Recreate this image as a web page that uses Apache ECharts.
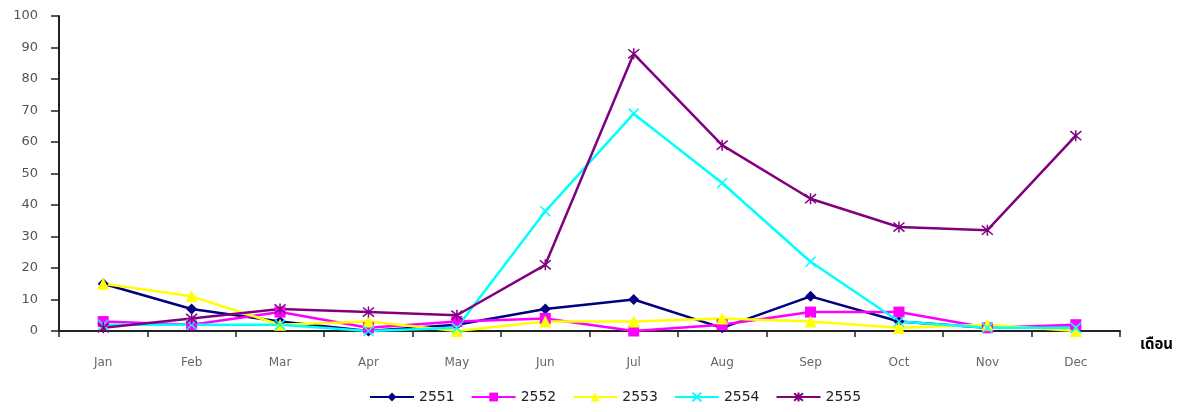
<!DOCTYPE html>
<html>
<head>
<meta charset="utf-8">
<script src="https://cdn.jsdelivr.net/npm/echarts@6/dist/echarts.min.js"></script>
<style>
  html, body { margin: 0; padding: 0; background: #fff; }
  #chart { width: 1188px; height: 412px; }
</style>
</head>
<body>
<div id="chart"></div>
<script>
const months = ['Jan', 'Feb', 'Mar', 'Apr', 'May', 'Jun', 'Jul', 'Aug', 'Sep', 'Oct', 'Nov', 'Dec'];
const yearNames = ['2551', '2552', '2553', '2554', '2555'];
const v2551 = [15, 7, 3, 0, 2, 7, 10, 1, 11, 3, 1, 1];
const v2552 = [3, 2, 6, 1, 3, 4, 0, 2, 6, 6, 1, 2];
const v2553 = [15, 11, 2, 3, 0, 3, 3, 4, 3, 1, 2, 0];
const v2554 = [2, 2, 2, 0, 1, 38, 69, 47, 22, 3, 1, 1];
const v2555 = [1, 4, 7, 6, 5, 21, 88, 59, 42, 33, 32, 62];
const yTicks = [0, 10, 20, 30, 40, 50, 60, 70, 80, 90, 100];
const axisTitle = 'เดือน';

const values = [v2551, v2552, v2553, v2554, v2555];
const colors = ['#000080', '#ff00ff', '#ffff00', '#00ffff', '#800080'];
const crossPath = 'path://M0,0L10,10M10,0L0,10';
const starPath = 'path://M0,0L10,10M10,0L0,10M5,-1L5,11';
const markers = [
  { symbol: 'diamond', size: 11, stroke: 0 },
  { symbol: 'rect', size: 11, stroke: 0 },
  { symbol: 'triangle', size: 12, stroke: 0 },
  { symbol: crossPath, size: 10, stroke: 1.5 },
  { symbol: starPath, size: 11, stroke: 1.5 }
];

const chart = echarts.init(document.getElementById('chart'), null, { renderer: 'canvas' });

const series = yearNames.map((name, i) => ({
  name: name,
  type: 'line',
  data: values[i],
  symbol: markers[i].symbol,
  symbolSize: markers[i].size,
  showAllSymbol: true,
  lineStyle: { color: colors[i], width: 2.5 },
  itemStyle: {
    color: colors[i],
    borderColor: colors[i],
    borderWidth: markers[i].stroke
  },
  emphasis: { disabled: true },
  animation: false
}));

chart.setOption({
  animation: false,
  textStyle: { fontFamily: 'DejaVu Sans, Noto Sans, sans-serif' },
  grid: { left: 59, right: 68, top: 16, bottom: 81, containLabel: false },
  legend: {
    bottom: 3,
    left: 364,
    itemWidth: 44,
    itemHeight: 11,
    itemGap: 16,
    textStyle: { color: '#222', fontSize: 14, fontFamily: 'DejaVu Sans, sans-serif' },
    data: yearNames
  },
  xAxis: {
    type: 'category',
    data: months,
    boundaryGap: true,
    name: axisTitle,
    nameLocation: 'end',
    nameGap: 20,
    nameTextStyle: {
      color: '#000',
      fontSize: 15,
      fontWeight: 'bold',
      verticalAlign: 'top',
      padding: [7, 0, 0, 0],
      fontFamily: 'Noto Sans Thai, Noto Sans, DejaVu Sans, sans-serif'
    },
    axisLine: { lineStyle: { color: '#222', width: 2 } },
    axisTick: { show: true, length: 6, lineStyle: { color: '#222', width: 1.5 } },
    axisLabel: { color: '#666', fontSize: 12, margin: 26 },
    splitLine: { show: false }
  },
  yAxis: {
    type: 'value',
    min: yTicks[0],
    max: yTicks[yTicks.length - 1],
    interval: yTicks[1] - yTicks[0],
    axisLine: { show: true, lineStyle: { color: '#222', width: 2 } },
    axisTick: { show: true, length: 8, lineStyle: { color: '#222', width: 1.5 } },
    axisLabel: { color: '#555', fontSize: 13, margin: 21 },
    splitLine: { show: false }
  },
  series: series
});
</script>
</body>
</html>
